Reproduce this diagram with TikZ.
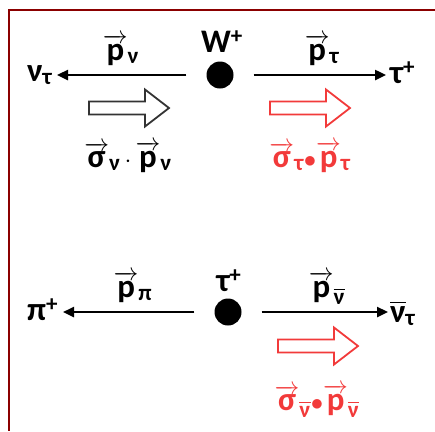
\documentclass[tikz,border=0pt]{standalone}
\usepackage{amsmath}
\usepackage{fontspec}
\setmainfont{Carlito}
\usetikzlibrary{arrows.meta}
\definecolor{framered}{RGB}{139,0,0}
\definecolor{spinred}{RGB}{242,58,58}
\newcommand{\vp}{\overrightarrow{\text{p}}}
\newcommand{\vsig}{\overrightarrow{\text{σ}}}
\newcommand{\nubar}{\overline{\text{ν}}}
\newcommand{\plusup}{$^{\text{+}}$}
\newcommand{\hollowarrow}[2][]{%
  \draw[line width=1.8bp, #1] (#2) ++(-40,-6.5) -- ++(56,0) -- ++(0,-12) -- ++(24,18.5)
    -- ++(-24,18.5) -- ++(0,-12) -- ++(-56,0) -- cycle;}

\begin{document}
\begin{tikzpicture}[x=1bp, y=-1bp,
  lbl/.style={font=\bfseries\fontsize{33}{36}\selectfont, inner sep=0pt},
  particle/.style={circle, fill=black, minimum size=27bp, inner sep=0pt},
  mom/.style={line width=2.4bp, -{Triangle[length=11bp,width=10bp]}, shorten <=20bp}]
\useasboundingbox (0,0) rectangle (435,431);
\draw[framered, line width=2bp] (435,9.5) -- (8.5,9.5) -- (8.5,431);
% W decay
\node[particle] (W) at (220,75) {};
\node[lbl, anchor=base] (Wlbl) at (222,52) {W\plusup};
\node[lbl, anchor=base west] (nut) at (27,81) {$\text{ν}_{\text{τ}}$};
\node[lbl, anchor=base west] (taup) at (390,83) {τ\plusup};
\coordinate (nutend) at (57,75);
\coordinate (taupend) at (386,75);
\draw[mom] (W) -- (nutend);
\draw[mom] (W) -- (taupend);
\node[lbl, anchor=base] (pnu) at (121,60) {$\vp_{\text{ν}}$};
\node[lbl, anchor=base] (ptau) at (322,60) {$\vp_{\text{τ}}$};
\hollowarrow[black!80]{129,108}
\hollowarrow[spinred]{310,108}
\node[lbl, anchor=base] (hnu) at (128,167) {$\vsig_{\text{ν}}\,{\cdot}\,\vp_{\text{ν}}$};
\node[lbl, anchor=base, text=spinred] (htau) at (310,167) {$\vsig_{\text{τ}}{\bullet}\vp_{\text{τ}}$};
% tau decay
\node[particle] (tau) at (228,312) {};
\node[lbl, anchor=base] (taulbl) at (229,291) {τ\plusup};
\node[lbl, anchor=base west] (pip) at (27,320) {π\plusup};
\node[lbl, anchor=base west] (nubt) at (390,322) {$\nubar_{\text{τ}}$};
\coordinate (pipend) at (63,312);
\coordinate (nubtend) at (388,312);
\draw[mom] (tau) -- (pipend);
\draw[mom] (tau) -- (nubtend);
\node[lbl, anchor=base] (ppi) at (133,297) {$\vp_{\text{π}}$};
\node[lbl, anchor=base] (pnub) at (327,297) {$\vp_{\nubar}$};
\hollowarrow[spinred]{318,346}
\node[lbl, anchor=base, text=spinred] (hnub) at (317,410) {$\vsig_{\nubar}{\bullet}\vp_{\nubar}$};
\end{tikzpicture}
\end{document}
